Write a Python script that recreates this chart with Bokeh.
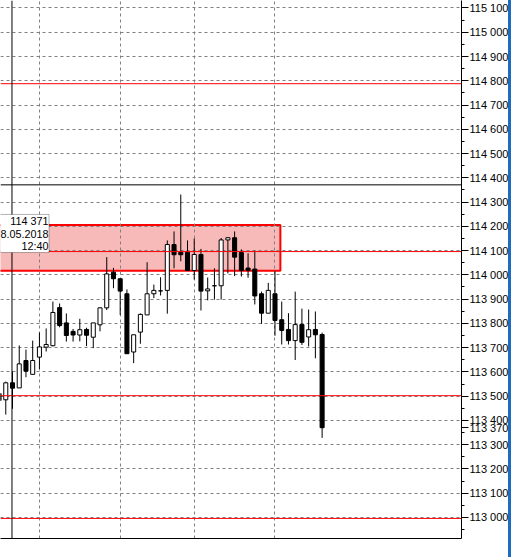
from bokeh.plotting import figure
from bokeh.models import Range1d, FixedTicker, Span, BoxAnnotation, Label, ColumnDataSource, AllLabels
from bokeh.embed import file_html
from bokeh.resources import INLINE

# ---------------- data ----------------
bar_index = list(range(49))
opens = [113511, 113485, 113555, 113534, 113647, 113590, 113661, 113702, 113708, 113865,
         113802, 113767, 113752, 113775, 113743, 113794, 113864, 114011, 113984, 113922,
         113682, 113764, 113835, 113922, 113934, 113936, 114125, 114093, 114093, 114018,
         114084, 113934, 113955, 113955, 114144, 114153, 114092, 114028, 114024, 113922,
         113842, 113922, 113815, 113775, 113729, 113795, 113744, 113775, 113754]
highs = [113532, 113560, 113602, 113709, 113692, 113729, 113762, 113779, 113890, 113882,
         113841, 113777, 113819, 113782, 113802, 113866, 114073, 114029, 113986, 113940,
         113753, 113841, 114052, 113960, 113990, 114142, 114179, 114331, 114142, 114150,
         114107, 113989, 114027, 114152, 114155, 114179, 114105, 114089, 114100, 113931,
         113967, 114015, 113890, 113842, 113931, 113861, 113857, 113849, 113762]
lows = [113441, 113424, 113448, 113534, 113578, 113590, 113612, 113684, 113705, 113784,
        113725, 113725, 113726, 113706, 113698, 113767, 113855, 113945, 113835, 113675,
        113636, 113716, 113835, 113904, 113915, 113840, 114027, 114056, 114018, 113981,
        113853, 113895, 113898, 113898, 114006, 113995, 113993, 113988, 113878, 113798,
        113842, 113749, 113713, 113713, 113649, 113711, 113705, 113656, 113328]
closes = [113482, 113555, 113533, 113633, 113603, 113647, 113703, 113713, 113845, 113791,
          113750, 113752, 113774, 113751, 113802, 113864, 114004, 113984, 113933, 113675,
          113753, 113837, 113922, 113936, 113934, 114125, 114083, 114083, 114018, 114084,
          113933, 113942, 113955, 114144, 114153, 114073, 114018, 114019, 113913, 113842,
          113936, 113812, 113771, 113729, 113795, 113722, 113774, 113753, 113370]

price_ticks = [113000, 113100, 113200, 113300, 113400, 113500, 113600, 113700,
               113800, 113900, 114000, 114100, 114200, 114300, 114400, 114500,
               114600, 114700, 114800, 114900, 115000, 115100]
price_tick_labels = ["113 000", "113 100", "113 200", "113 300", "113 400", "113 500",
                     "113 600", "113 700", "113 800", "113 900", "114 000", "114 100",
                     "114 200", "114 300", "114 400", "114 500", "114 600", "114 700",
                     "114 800", "114 900", "115 000", "115 100"]
time_grid_bars = [6, 18, 29, 41]

level_lines = [114788, 114096, 113502, 112996]
crosshair_price = 114371
crosshair_bar = 1.92
zone_top = 114206
zone_bottom = 114017
zone_start_bar = -3
zone_end_bar = 41.8
tooltip_lines = ["114 371", "8.05.2018", "12:40"]
tooltip_line_prices = [114223, 114170, 114118]
tooltip_top = 114249
tooltip_bottom = 114092
last_price = 113370
last_price_label = "113 370"

view_bars = (0.216, 68.71)
view_prices = (112913.3, 115130.9)

FONT = "Liberation Sans"

# ---------------- figure ----------------
p = figure(width=511, height=557, output_backend="svg", toolbar_location=None,
           x_range=Range1d(*view_bars), y_range=Range1d(*view_prices),
           y_axis_location="right",
           min_border_left=0, min_border_top=0, min_border_right=0, min_border_bottom=19,
           background_fill_color="white", border_fill_color="white",
           outline_line_color=None)

# window edge (decoration at the right border of the screenshot)
p.stylesheets = [":host { position: relative; }",
                 ":host::after { content: ''; position: absolute; top: 0; right: 0; "
                 "width: 3px; height: 100%; background: #1c6dc2; z-index: 10; }"]

# right price axis (with the last-price tag as an extra labelled tick)
yax = p.yaxis[0]
yax.ticker = FixedTicker(ticks=price_ticks + [last_price],
                         minor_ticks=[t - 50 for t in price_ticks])
overrides = dict(zip(price_ticks, price_tick_labels))
overrides[last_price] = last_price_label
yax.major_label_overrides = overrides
yax.major_label_policy = AllLabels()
yax.axis_line_color = "black"
yax.major_tick_line_color = "black"
yax.minor_tick_line_color = "black"
yax.major_tick_out = 7
yax.major_tick_in = 0
yax.minor_tick_out = 3
yax.minor_tick_in = 0
yax.major_label_standoff = 1
yax.major_label_text_font = FONT
yax.major_label_text_font_size = "11px"
yax.major_label_text_color = "black"

# bottom axis: line only
xax = p.xaxis[0]
xax.ticker = FixedTicker(ticks=[])
xax.major_tick_out = 0
xax.major_tick_in = 0
xax.minor_tick_out = 0
xax.minor_tick_in = 0
xax.axis_line_color = "black"

# grids
p.ygrid.ticker = FixedTicker(ticks=price_ticks)
p.ygrid.grid_line_color = "#808080"
p.ygrid.grid_line_dash = "3 3"
p.xgrid.ticker = FixedTicker(ticks=time_grid_bars)
p.xgrid.grid_line_color = "#808080"
p.xgrid.grid_line_dash = "3 3"

# zone rectangle (background object)
p.quad(left=[zone_start_bar], right=[zone_end_bar], top=[zone_top], bottom=[zone_bottom],
       fill_color="#f8b9b9", line_color="#ff0000", line_width=2, level="image")

# candles
tops = [max(o, c) for o, c in zip(opens, closes)]
bottoms = [min(o, c) for o, c in zip(opens, closes)]
colors = ["white" if c > o else "black" for o, c in zip(opens, closes)]
src = ColumnDataSource(dict(x=bar_index, high=highs, low=lows, top=tops, bottom=bottoms, color=colors))
p.segment(x0="x", y0="low", x1="x", y1="high", source=src, line_color="black", line_width=1)
p.vbar(x="x", width=0.6, top="top", bottom="bottom", source=src,
       fill_color="color", line_color="black", line_width=1)

# horizontal level lines
for lv in level_lines:
    p.add_layout(Span(location=lv, dimension="width", line_color="#ff0000", line_width=1))

# crosshair
p.add_layout(Span(location=crosshair_price, dimension="width", line_color="black", line_width=1))
p.add_layout(Span(location=crosshair_bar, dimension="height", line_color="black", line_width=1))

# crosshair tooltip
p.add_layout(BoxAnnotation(left=-10, right=48.5, left_units="screen", right_units="screen",
                           top=tooltip_top, bottom=tooltip_bottom,
                           fill_color="white", fill_alpha=1.0, line_color="black", line_width=1))
for txt, yp in zip(tooltip_lines, tooltip_line_prices):
    p.add_layout(Label(x=48, x_units="screen", y=yp, text=txt, text_align="right",
                       text_baseline="middle", text_font=FONT, text_font_size="10.8px",
                       text_color="black"))

open("out.html", "w").write(file_html(p, INLINE))
